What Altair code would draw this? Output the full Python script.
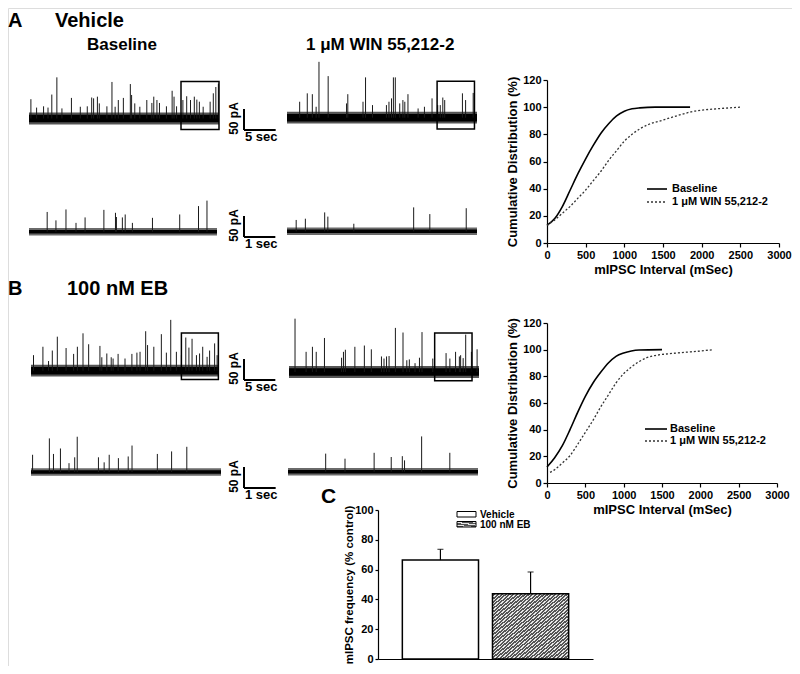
import altair as alt
import pandas as pd

# ---------------------------------------------------------------- data
# Example traces: event times (s) and peak amplitudes (pA)
A_LONG_BASE_T = [0.3, 1.2, 2.3, 3.0, 3.6, 4.4, 5.2, 6.7, 8.1, 9.2, 9.9, 10.2, 10.8, 11.1, 12.3,
                 13.1, 13.6, 14.1, 14.9, 16.0, 16.2, 16.7, 17.5, 18.6, 19.4, 19.7, 20.2, 20.6, 21.7,
                 22.6, 22.9, 23.3, 24.3, 24.9, 25.5, 26.1, 26.5, 26.9, 27.5, 28.6, 29.1, 29.5, 29.9]
A_LONG_BASE_PA = [46, 26, 29, 26, 57, 98, 24, 49, 28, 29, 50, 48, 52, 36, 29,
                  87, 28, 44, 49, 82, 56, 36, 28, 44, 37, 52, 44, 37, 29,
                  66, 52, 29, 44, 53, 44, 52, 45, 40, 28, 40, 60, 75, 83]
A_LONG_WIN_T = [2.0, 3.2, 4.0, 4.6, 5.05, 6.5, 9.4, 9.6, 12.0, 12.4, 13.5, 15.7, 16.1, 16.5, 16.8,
                17.1, 17.8, 18.3, 18.6, 19.1, 20.7, 21.7, 22.9, 23.8, 24.2, 24.6, 24.9, 27.7, 28.2, 29.4]
A_LONG_WIN_PA = [38, 58, 56, 26, 133, 99, 34, 56, 38, 96, 30, 30, 38, 46, 96,
                 96, 34, 42, 38, 56, 22, 26, 46, 30, 30, 48, 42, 58, 42, 59]
A_SHORT_BASE_T = [0.58, 0.86, 1.18, 1.50, 1.79, 2.39, 2.76, 2.79, 2.98, 3.07, 3.30, 3.94, 4.81, 5.41, 5.68]
A_SHORT_BASE_PA = [47, 27, 53, 21, 34, 52, 45, 35, 34, 41, 21, 33, 41, 61, 74]
A_SHORT_WIN_T = [0.29, 0.58, 1.19, 1.29, 2.11, 4.0, 4.51, 5.66]
A_SHORT_WIN_PA = [27, 30, 45, 35, 18, 57, 41, 55]

B_LONG_BASE_T = [0.4, 1.9, 2.8, 3.4, 4.2, 5.6, 6.8, 7.4, 8.3, 9.2, 11.0, 11.3, 12.1, 12.8, 13.1,
                 13.9, 15.0, 16.1, 16.9, 17.4, 18.3, 18.6, 19.6, 20.8, 21.6, 22.3, 23.2, 24.0, 24.7,
                 25.2, 25.7, 26.4, 26.9, 27.4, 28.1, 28.5, 29.3, 29.7]
B_LONG_BASE_PA = [37, 57, 23, 48, 81, 54, 40, 57, 89, 63, 59, 32, 41, 32, 29,
                  40, 29, 40, 43, 45, 94, 61, 57, 87, 43, 121, 45, 37, 79,
                  55, 76, 37, 41, 57, 33, 48, 65, 37]
B_LONG_WIN_T = [0.95, 2.7, 3.7, 4.3, 5.6, 8.3, 8.6, 8.9, 10.4, 11.9, 13.0, 14.6, 15.0, 15.4, 15.8,
                16.8, 18.0, 18.6, 19.0, 19.9, 20.6, 21.0, 22.7, 24.8, 25.4, 26.3, 26.9, 27.1, 27.5,
                27.9, 28.8, 29.7]
B_LONG_WIN_PA = [127, 48, 60, 48, 81, 34, 48, 53, 60, 63, 54, 37, 32, 37, 38,
                 105, 94, 28, 30, 21, 34, 95, 32, 45, 32, 48, 37, 40, 33,
                 89, 48, 54]
B_SHORT_BASE_T = [0.05, 0.58, 0.71, 0.93, 1.20, 1.38, 1.46, 2.13, 2.31, 2.47, 2.76, 3.07, 3.19, 3.99, 4.44, 4.92]
B_SHORT_BASE_PA = [41, 80, 43, 56, 21, 35, 84, 35, 23, 41, 33, 37, 63, 43, 49, 60]
B_SHORT_WIN_T = [1.19, 1.8, 2.72, 3.26, 3.61, 3.68, 4.22, 5.11]
B_SHORT_WIN_PA = [43, 31, 45, 35, 37, 27, 84, 45]

TRACE_LONG_S = 30
TRACE_SHORT_S = 6
NOISE_LONG_PA = [9, 14]    # dense core, outer envelope
NOISE_SHORT_PA = [4, 9]
SCALE_PA = 50
SCALE_LONG_S = 5
SCALE_SHORT_S = 1
# zoomed segment boxes: start s, end s, low pA, high pA
A_BASE_BOX = [24.0, 30.0, -26, 88]
A_WIN_BOX = [23.7, 29.6, -27, 87]
B_BASE_BOX = [24.0, 29.9, -21, 90]
B_WIN_BOX = [23.0, 28.9, -21, 93]

# Cumulative distributions of mIPSC intervals
CUM_SERIES = ["Baseline", "1 \u03bcM WIN 55,212-2"]
CUM_X_TICKS = [0, 500, 1000, 1500, 2000, 2500, 3000]
CUM_Y_TICKS = [0, 20, 40, 60, 80, 100, 120]
A_CUM_BASE_MS = [0, 100, 200, 300, 400, 500, 600, 700, 800, 900, 1000, 1100, 1200, 1400, 1600, 1850]
A_CUM_BASE_PCT = [13, 18, 27, 39, 51, 62, 72, 81, 88, 93.5, 97, 98.8, 99.5, 100, 100, 100]
A_CUM_WIN_MS = [0, 100, 200, 300, 400, 500, 600, 700, 800, 900, 1000, 1100, 1200, 1300, 1500, 1700, 1900, 2000, 2200, 2500]
A_CUM_WIN_PCT = [13, 17, 22, 27, 33, 39, 46, 53, 61, 68, 75, 80, 84, 87, 90.5, 94, 97, 97.8, 98.8, 100]
B_CUM_BASE_MS = [0, 100, 200, 300, 400, 500, 600, 700, 800, 900, 1000, 1100, 1200, 1500]
B_CUM_BASE_PCT = [12, 19, 28, 40, 53, 65, 75, 83, 90, 95, 97.5, 99, 99.7, 100]
B_CUM_WIN_MS = [40, 100, 200, 300, 400, 500, 600, 700, 800, 900, 1000, 1100, 1200, 1300, 1400, 1600, 1800, 2000, 2170]
B_CUM_WIN_PCT = [8, 10, 15, 20.5, 29, 38, 47, 57, 66, 75, 82, 87, 91, 94, 95.5, 97, 98, 99, 100]

# Panel C: mIPSC frequency (% control)
C_GROUPS = ["Vehicle", "100 nM EB"]
C_MEAN = [66.4, 43.8]
C_SEM = [7.2, 14.6]
C_Y_TICKS = [0, 20, 40, 60, 80, 100]

# ---------------------------------------------------------------- layout helpers
OFF = 8
W, H = 784, 658
K = 0.42          # px per pA in the traces
FONT = "Liberation Sans"


def P(v):
    return v - OFF


layers = []
ONE = pd.DataFrame({"_": [0]})


def add_text(txt, x, y, size, align="left", baseline="alphabetic", angle=0, weight="bold"):
    kw = dict(text=txt, font=FONT, fontSize=size, fontWeight=weight, align=align,
              baseline=baseline, color="black")
    if angle:
        kw["angle"] = angle
    layers.append(alt.Chart(ONE).mark_text(**kw).encode(x=alt.value(P(x)), y=alt.value(P(y))))


def trace_scales(dur, x0, x1, base):
    xs = alt.Scale(domain=[0, dur], range=[P(x0), P(x1)], nice=False, zero=False)
    ys = alt.Scale(domain=[-50, 150], range=[P(base) + 50 * K, P(base) - 150 * K], nice=False, zero=False)
    return xs, ys


def add_trace(t, a, dur, x0, x1, base, noise, core_color, fringe_color, box=None):
    xs, ys = trace_scales(dur, x0, x1, base)
    core, fringe = noise
    for lo, hi, col in [(-fringe, fringe, fringe_color), (-core, core, core_color)]:
        band = pd.DataFrame({"t0": [0], "t1": [dur], "lo": [lo], "hi": [hi]})
        layers.append(alt.Chart(band).mark_rect(color=col).encode(
            x=alt.X("t0:Q", scale=xs, axis=None), x2="t1:Q",
            y=alt.Y("lo:Q", scale=ys, axis=None), y2="hi:Q"))
    spikes = pd.DataFrame({"t": t, "a": a, "z": [0] * len(t)})
    layers.append(alt.Chart(spikes).mark_rule(color="#1a1a1a", strokeWidth=1).encode(
        x=alt.X("t:Q", scale=xs, axis=None),
        y=alt.Y("a:Q", scale=ys, axis=None), y2="z:Q"))
    if box:
        bdf = pd.DataFrame({"t0": [box[0]], "t1": [box[1]], "lo": [box[2]], "hi": [box[3]]})
        layers.append(alt.Chart(bdf).mark_rect(fillOpacity=0, stroke="black", strokeWidth=1.5).encode(
            x=alt.X("t0:Q", scale=xs, axis=None), x2="t1:Q",
            y=alt.Y("lo:Q", scale=ys, axis=None), y2="hi:Q"))


def add_scalebar(dur, x0, x1, base, cx, cy, sec):
    xs, ys = trace_scales(dur, x0, x1, base)
    t0 = (cx - x0) / (x1 - x0) * dur
    a0 = (base - cy) / K
    df = pd.DataFrame({"t": [t0, t0], "t2": [t0, t0 + sec], "a": [a0, a0], "a2": [a0 + SCALE_PA, a0]})
    layers.append(alt.Chart(df).mark_rule(color="black", strokeWidth=2).encode(
        x=alt.X("t:Q", scale=xs, axis=None), x2="t2:Q",
        y=alt.Y("a:Q", scale=ys, axis=None), y2="a2:Q"))
    add_text(f"{SCALE_PA} pA", cx - 10, cy - SCALE_PA * K / 2 - 1, 12, align="center",
             baseline="middle", angle=270)
    add_text(f"{sec} sec", cx + 1, cy + 7, 13, align="left", baseline="middle")


AX = dict(labelFont=FONT, labelFontSize=11, labelFontWeight="bold", labelColor="black",
          titleFont=FONT, titleFontWeight="bold", titleColor="black",
          domain=True, ticks=True, labels=True,
          domainColor="black", domainWidth=1.2, tickColor="black", tickWidth=1.2,
          grid=False, labelFlush=False, labelOverlap=False)


def add_cum(bx, by, wx, wy, x0, x1, y0, y1, leg):
    xs = alt.Scale(domain=[0, 3000], range=[P(x0), P(x1)], nice=False, zero=False)
    ys = alt.Scale(domain=[0, 120], range=[P(y0), P(y1)], nice=False, zero=False)
    xaxis = alt.Axis(orient="bottom", offset=P(y0) - H, values=CUM_X_TICKS, format="d",
                     title="mIPSC Interval (mSec)",
                     titleFontSize=13, tickSize=4, labelPadding=2, titlePadding=3, **AX)
    yaxis = alt.Axis(orient="left", offset=-P(x0), values=CUM_Y_TICKS, format="d",
                     title="Cumulative Distribution (%)",
                     titleFontSize=13, tickSize=4, labelPadding=2, titlePadding=3, **AX)
    d1 = pd.DataFrame({"ms": bx, "pct": by})
    d2 = pd.DataFrame({"ms": wx, "pct": wy})
    layers.append(alt.Chart(d1).mark_line(color="black", strokeWidth=1.6, interpolate="monotone").encode(
        x=alt.X("ms:Q", scale=xs, axis=xaxis), y=alt.Y("pct:Q", scale=ys, axis=yaxis)))
    layers.append(alt.Chart(d2).mark_line(color="#333333", strokeWidth=1.3, strokeDash=[2, 2],
                                          interpolate="monotone").encode(
        x=alt.X("ms:Q", scale=xs, axis=None), y=alt.Y("pct:Q", scale=ys, axis=None)))
    lx0, lx1, ly1, ly2, tx = leg
    layers.append(alt.Chart(ONE).mark_rule(color="black", strokeWidth=1.6).encode(
        x=alt.value(P(lx0)), x2=alt.value(P(lx1)), y=alt.value(P(ly1))))
    layers.append(alt.Chart(ONE).mark_rule(color="#333333", strokeWidth=1.3, strokeDash=[2, 2]).encode(
        x=alt.value(P(lx0)), x2=alt.value(P(lx1)), y=alt.value(P(ly2))))
    add_text(CUM_SERIES[0], tx, ly1, 11, baseline="middle")
    add_text(CUM_SERIES[1], tx, ly2, 11, baseline="middle")


# hatch pattern for the EB bar (diagonal stripes via hard-stop gradient)
stops = []
N_STRIPES = 40
for i in range(N_STRIPES):
    a0 = i / N_STRIPES
    a1 = (i + 0.4) / N_STRIPES
    a2 = (i + 1) / N_STRIPES
    stops += [alt.GradientStop(offset=a0, color="#e6e6e6"), alt.GradientStop(offset=a1, color="#e6e6e6"),
              alt.GradientStop(offset=a1, color="#555555"), alt.GradientStop(offset=a2, color="#555555")]
HATCH = alt.LinearGradient(gradient="linear", x1=0, y1=0, x2=1, y2=1, stops=stops)

# ---------------------------------------------------------------- panel A
add_text("A", 8, 26.5, 20)
add_text("Vehicle", 55, 26.5, 20)
add_text("Baseline", 87, 50, 17)
add_text("1 \u03bcM WIN 55,212-2", 306, 50, 17)

add_trace(A_LONG_BASE_T, A_LONG_BASE_PA, TRACE_LONG_S, 29, 219, 118.5, NOISE_LONG_PA, "#000", "#555", A_BASE_BOX)
add_trace(A_LONG_WIN_T, A_LONG_WIN_PA, TRACE_LONG_S, 287, 477, 117.7, NOISE_LONG_PA, "#000", "#555", A_WIN_BOX)
add_scalebar(TRACE_LONG_S, 29, 219, 118.5, 244, 130, SCALE_LONG_S)
add_trace(A_SHORT_BASE_T, A_SHORT_BASE_PA, TRACE_SHORT_S, 29, 217, 231.7, NOISE_SHORT_PA, "#000", "#6a6a6a")
add_trace(A_SHORT_WIN_T, A_SHORT_WIN_PA, TRACE_SHORT_S, 287, 477, 231.3, NOISE_SHORT_PA, "#000", "#6a6a6a")
add_scalebar(TRACE_SHORT_S, 29, 217, 231.7, 244, 237, SCALE_SHORT_S)
add_cum(A_CUM_BASE_MS, A_CUM_BASE_PCT, A_CUM_WIN_MS, A_CUM_WIN_PCT, 547, 779, 243, 80,
        (647, 667, 189, 202, 672))

# ---------------------------------------------------------------- panel B
add_text("B", 8, 295, 20)
add_text("100 nM EB", 67, 295, 20)
add_trace(B_LONG_BASE_T, B_LONG_BASE_PA, TRACE_LONG_S, 31, 219, 370.7, NOISE_LONG_PA, "#000", "#555", B_BASE_BOX)
add_trace(B_LONG_WIN_T, B_LONG_WIN_PA, TRACE_LONG_S, 289, 479, 372, NOISE_LONG_PA, "#000", "#555", B_WIN_BOX)
add_scalebar(TRACE_LONG_S, 31, 219, 370.7, 244, 380, SCALE_LONG_S)
add_trace(B_SHORT_BASE_T, B_SHORT_BASE_PA, TRACE_SHORT_S, 31, 221, 472, NOISE_SHORT_PA, "#000", "#6a6a6a")
add_trace(B_SHORT_WIN_T, B_SHORT_WIN_PA, TRACE_SHORT_S, 288, 478, 471.7, NOISE_SHORT_PA, "#000", "#6a6a6a")
add_scalebar(TRACE_SHORT_S, 31, 221, 472, 244, 488, SCALE_SHORT_S)
add_cum(B_CUM_BASE_MS, B_CUM_BASE_PCT, B_CUM_WIN_MS, B_CUM_WIN_PCT, 547, 777, 483, 323,
        (645, 667, 429, 441, 670))

# ---------------------------------------------------------------- panel C
add_text("C", 321, 503, 21)
cdf = pd.DataFrame({"group": C_GROUPS, "mean": C_MEAN, "sem": C_SEM, "z": [0, 0]})
cx_s = alt.Scale(domain=C_GROUPS, range=[P(378), P(593)], paddingInner=0.155, paddingOuter=0.27)
cy_s = alt.Scale(domain=[0, 100], range=[P(659), P(510)], nice=False, zero=False)
cxa = alt.Axis(orient="bottom", offset=P(659) - H, domain=True, labels=False, ticks=False, title="",
               domainColor="black", domainWidth=1.2, grid=False)
cya = alt.Axis(orient="left", offset=-P(378), values=C_Y_TICKS, format="d",
               title="mIPSC frequency (% control)",
               titleFontSize=11.5, tickSize=3, labelPadding=2, titlePadding=0, **AX)
base_c = alt.Chart(cdf)
layers.append(base_c.mark_bar(fill="white", stroke="black", strokeWidth=1.5).encode(
    x=alt.X("group:N", scale=cx_s, axis=cxa), y=alt.Y("mean:Q", scale=cy_s, axis=cya), y2="z:Q"
).transform_filter(alt.datum.group == C_GROUPS[0]))
layers.append(base_c.mark_bar(fill=HATCH, stroke="black", strokeWidth=1.5).encode(
    x=alt.X("group:N", scale=cx_s, axis=None), y=alt.Y("mean:Q", scale=cy_s, axis=None), y2="z:Q"
).transform_filter(alt.datum.group == C_GROUPS[1]))
layers.append(base_c.transform_calculate(top="datum.mean + datum.sem").mark_rule(
    color="black", strokeWidth=1.2).encode(
    x=alt.X("group:N", scale=cx_s, axis=None), y=alt.Y("mean:Q", scale=cy_s, axis=None), y2="top:Q"))
layers.append(base_c.transform_calculate(top="datum.mean + datum.sem").mark_tick(
    color="black", thickness=1.2, size=6, orient="horizontal").encode(
    x=alt.X("group:N", scale=cx_s, axis=None), y=alt.Y("top:Q", scale=cy_s, axis=None)))
# legend
layers.append(alt.Chart(ONE).mark_rect(fill="white", stroke="black", strokeWidth=1).encode(
    x=alt.value(P(457)), x2=alt.value(P(476)), y=alt.value(P(511.5)), y2=alt.value(P(517))))
layers.append(alt.Chart(ONE).mark_rect(fill=HATCH, stroke="black", strokeWidth=1).encode(
    x=alt.value(P(457)), x2=alt.value(P(476)), y=alt.value(P(521.5)), y2=alt.value(P(527))))
add_text(C_GROUPS[0], 480, 514.5, 10, baseline="middle")
add_text(C_GROUPS[1], 480, 524.5, 10, baseline="middle")

chart = alt.layer(*layers).resolve_scale(x="independent", y="independent").properties(
    width=W, height=H, autosize=alt.AutoSizeParams(type="none"), padding=0
).configure_view(stroke="transparent").configure_axis(
    domain=False, ticks=False, labels=False, grid=False
).configure(background="white")

chart.save("out.html", embed_options={"renderer": "svg", "actions": False})
